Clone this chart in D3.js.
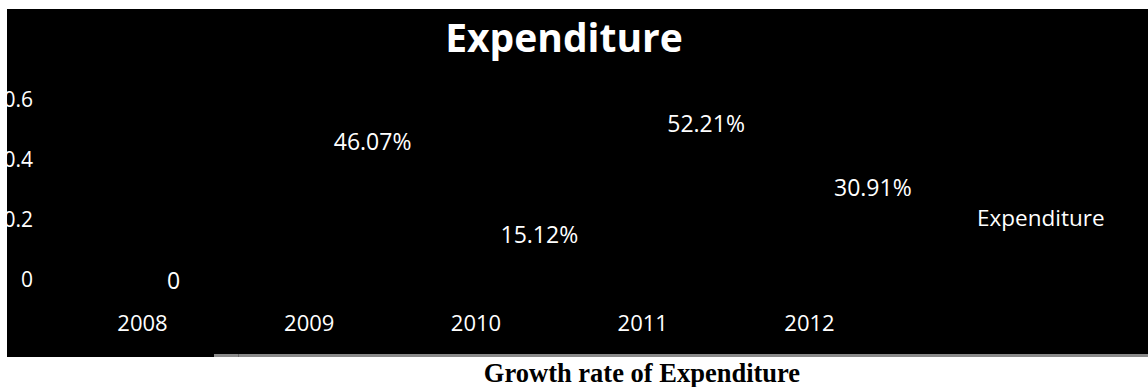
<!DOCTYPE html>
<html>
<head>
<meta charset="utf-8">
<script src="https://cdn.jsdelivr.net/npm/d3@7"></script>
<style>
  html, body { margin: 0; padding: 0; background: #ffffff; }
  svg { display: block; }
</style>
</head>
<body>
<svg id="chart" width="1148" height="387"></svg>
<script>
// Growth rate of expenditure by year
const years = ["2008", "2009", "2010", "2011", "2012"];
const growth = [0, 0.4607, 0.1512, 0.5221, 0.3091];
const yTicks = [0, 0.2, 0.4, 0.6];
const yTickLabels = ["0", "0.2", "0.4", "0.6"];
const seriesName = "Expenditure";
const chartTitle = "Expenditure";
const caption = "Growth rate of Expenditure";

const svg = d3.select("#chart");
const font = "'Open Sans', 'DejaVu Sans', sans-serif";

// Chart panel
const panel = { x: 7, y: 9, w: 1141, h: 348 };
svg.append("defs").append("clipPath").attr("id", "panelClip")
  .append("rect").attr("x", panel.x).attr("y", panel.y).attr("width", panel.w).attr("height", panel.h);

svg.append("rect")
  .attr("x", panel.x).attr("y", panel.y).attr("width", panel.w).attr("height", panel.h)
  .attr("fill", "#000000");

// Thin grey edge under the panel
svg.append("rect")
  .attr("x", 214).attr("y", 354).attr("width", 934).attr("height", 3)
  .attr("fill", "#8a8a8a");
svg.append("rect")
  .attr("x", 238).attr("y", 354).attr("width", 1).attr("height", 3)
  .attr("fill", "#6a6a6a");

const g = svg.append("g").attr("clip-path", "url(#panelClip)");

const x = d3.scalePoint().domain(years).range([142, 809]);
const y = d3.scaleLinear().domain([0, 0.6]).range([279.5, 99.5]);

// Title
g.append("text")
  .attr("x", 564).attr("y", 52)
  .attr("text-anchor", "middle")
  .attr("font-family", font).attr("font-weight", "bold").attr("font-size", 39)
  .attr("fill", "#ffffff")
  .text(chartTitle);

// Y axis labels
const yAxis = d3.axisLeft(y)
  .tickValues(yTicks)
  .tickSize(0)
  .tickPadding(0)
  .tickFormat((d, i) => yTickLabels[i]);
const yg = g.append("g").attr("transform", "translate(33,0)").call(yAxis);
yg.select(".domain").remove();
yg.selectAll("text")
  .attr("font-family", font).attr("font-size", 21)
  .attr("fill", "#ffffff").attr("dy", "0.35em");

// X axis labels
const xAxis = d3.axisBottom(x).tickSize(0).tickPadding(0);
const xg = g.append("g").attr("transform", "translate(0,323)").call(xAxis);
xg.select(".domain").remove();
xg.selectAll("text")
  .attr("font-family", font).attr("font-size", 22)
  .attr("fill", "#ffffff").attr("dy", "0.35em");

// Series line (drawn in the panel colour)
const line = d3.line().x((d, i) => x(years[i])).y(d => y(d));
g.append("path")
  .datum(growth)
  .attr("d", line)
  .attr("fill", "none")
  .attr("stroke", "#000000")
  .attr("stroke-width", 2);

// Data labels, to the right of each point
const pct = d3.format(".2%");
g.selectAll(".dlabel")
  .data(growth)
  .join("text")
  .attr("class", "dlabel")
  .attr("x", (d, i) => x(years[i]) + 25)
  .attr("y", d => y(d) + 1)
  .attr("dy", "0.35em")
  .attr("font-family", font).attr("font-size", 23)
  .attr("fill", "#ffffff")
  .text(d => d === 0 ? "0" : pct(d));

// Legend
g.append("line")
  .attr("x1", 940).attr("x2", 970).attr("y1", 218).attr("y2", 218)
  .attr("stroke", "#000000").attr("stroke-width", 2);
g.append("text")
  .attr("x", 977).attr("y", 218)
  .attr("dy", "0.35em")
  .attr("font-family", font).attr("font-size", 22.5)
  .attr("fill", "#ffffff")
  .text(seriesName);

// Caption below the panel
svg.append("text")
  .attr("x", 642).attr("y", 382)
  .attr("text-anchor", "middle")
  .attr("font-family", "'Liberation Serif', 'Times New Roman', serif")
  .attr("font-weight", "bold").attr("font-size", 26.5)
  .attr("fill", "#000000")
  .text(caption);
</script>
</body>
</html>
